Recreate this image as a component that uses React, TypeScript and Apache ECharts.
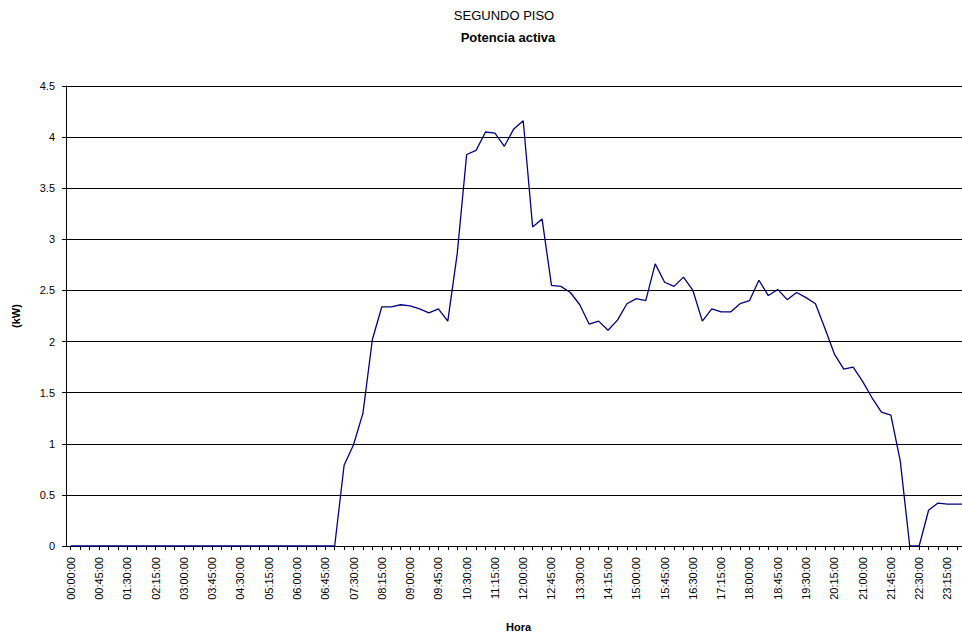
import React, { useEffect, useRef } from "react";
import * as echarts from "echarts";

const times: string[] = [];
for (let h = 0; h < 24; h++) {
  for (let m = 0; m < 60; m += 15) {
    times.push(`${String(h).padStart(2, "0")}:${String(m).padStart(2, "0")}:00`);
  }
}

const nightZeros = [
  0, 0, 0, 0, 0, 0, 0, 0, 0, 0, 0, 0, 0, 0, 0, 0, 0, 0, 0, 0, 0, 0, 0, 0, 0, 0, 0, 0, 0,
];
const dayValues = [
  0.79, 0.99, 1.3, 2.02, 2.34, 2.34, 2.36, 2.35, 2.32, 2.28, 2.32, 2.2, 2.86, 3.83, 3.87,
  4.05, 4.04, 3.91, 4.08, 4.16, 3.12, 3.2, 2.55, 2.54, 2.48, 2.36, 2.17, 2.2, 2.11, 2.21,
  2.37, 2.42, 2.4, 2.76, 2.58, 2.54, 2.63, 2.5, 2.2, 2.32, 2.29, 2.29, 2.37, 2.4, 2.6,
  2.45, 2.51, 2.41, 2.48, 2.43, 2.37, 2.13, 1.88, 1.73, 1.75, 1.61, 1.45, 1.31, 1.28,
  0.83, 0, 0, 0.35, 0.42, 0.41, 0.41, 0.41,
];
const power = [...nightZeros, ...dayValues];

export default function App() {
  const ref = useRef<HTMLDivElement>(null);
  useEffect(() => {
    document.body.style.margin = "0";
    const chart = echarts.init(ref.current!, null, { renderer: "svg" });
    const font = "'Liberation Sans', Arial, sans-serif";
    chart.setOption({
      animation: false,
      backgroundColor: "#ffffff",
      textStyle: { fontFamily: font },
      title: [
        {
          text: "SEGUNDO PISO",
          left: 499,
          top: 4,
          textAlign: "center",
          textStyle: { fontSize: 13, fontWeight: "normal", color: "#000", fontFamily: font },
        },
        {
          text: "Potencia activa",
          left: 503,
          top: 26,
          textAlign: "center",
          textStyle: { fontSize: 13, fontWeight: "bold", color: "#000", fontFamily: font },
        },
      ],
      grid: {
        left: 66,
        top: 86,
        width: 905,
        height: 460,
        containLabel: false,
        outerBoundsMode: "none",
      },
      xAxis: {
        type: "category",
        data: times,
        boundaryGap: true,
        name: "Hora",
        nameLocation: "middle",
        nameGap: 75,
        nameTextStyle: { fontSize: 11, fontWeight: "bold", color: "#000", fontFamily: font },
        axisLine: { lineStyle: { color: "#000", width: 1 } },
        axisTick: { show: true, alignWithLabel: true, interval: 0, length: 4, lineStyle: { color: "#000" } },
        axisLabel: { interval: 2, rotate: 90, fontSize: 11, color: "#000", margin: 11, fontFamily: font },
        splitLine: { show: false },
      },
      yAxis: {
        type: "value",
        min: 0,
        max: 4.5,
        interval: 0.5,
        name: "(kW)",
        nameLocation: "middle",
        nameGap: 45,
        nameTextStyle: { fontSize: 11, fontWeight: "bold", color: "#000", fontFamily: font },
        axisLine: { show: true, lineStyle: { color: "#000", width: 1 } },
        axisTick: { show: true, length: 4, lineStyle: { color: "#000" } },
        axisLabel: { fontSize: 11, color: "#000", margin: 11, fontFamily: font },
        splitLine: { show: true, lineStyle: { color: "#000", width: 1 } },
      },
      series: [
        {
          type: "line",
          data: power,
          symbol: "none",
          lineStyle: { color: "#000080", width: 1.3 },
          itemStyle: { color: "#000080" },
        },
      ],
    });
    return () => chart.dispose();
  }, []);
  return <div ref={ref} style={{ width: 962, height: 635 }} />;
}
